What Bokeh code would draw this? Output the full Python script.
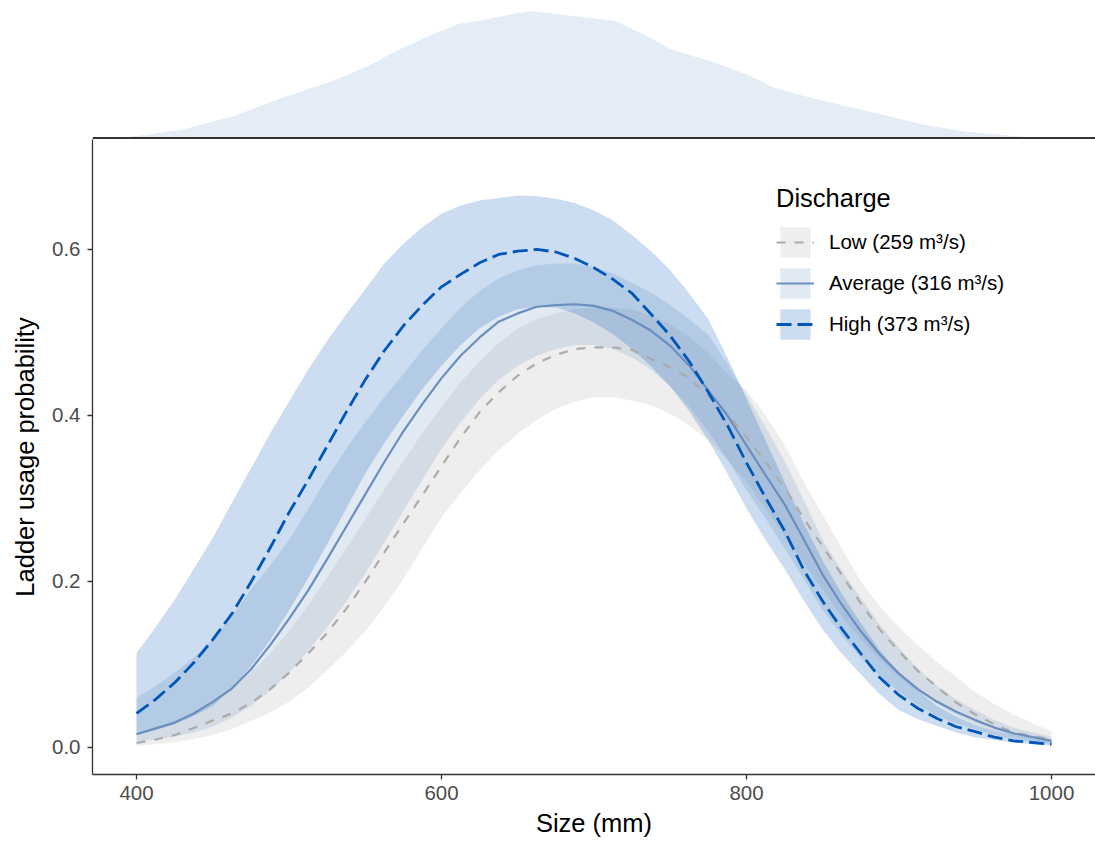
from bokeh.plotting import figure
from bokeh.layouts import column
from bokeh.models import Range1d, FixedTicker, PrintfTickFormatter, Legend, LegendItem, Span
from bokeh.embed import file_html
from bokeh.resources import INLINE

# ---- data ----
size_mm = [400, 412.5, 425, 437.5, 450, 462.5, 475, 487.5, 500, 512.5, 525, 537.5, 550,
           562.5, 575, 587.5, 600, 612.5, 625, 637.5, 650, 662.5, 675, 687.5, 700,
           712.5, 725, 737.5, 750, 762.5, 775, 787.5, 800, 812.5, 825, 837.5, 850,
           862.5, 875, 887.5, 900, 912.5, 925, 937.5, 950, 962.5, 975, 987.5, 1000]

low_fit = [.0054, .0096, .015, .0235, .0325, .041, .0536, .070, .090, .113,
           .138, .167, .1995, .235, .270, .304, .339, .373, .404, .428,
           .448, .463, .473, .480, .482, .482, .479, .468, .458, .445,
           .423, .402, .374, .344, .313, .276, .242, .208, .1735, .142,
           .1157, .092, .073, .054, .0398, .028, .018, .0139, .0096]
low_lo = [.002, .004, .006, .010, .015, .022, .032, .042, .055, .072,
          .093, .115, .140, .170, .203, .240, .277, .307, .334, .358,
          .378, .395, .408, .417, .422, .422, .418, .412, .402, .388,
          .370, .347, .320, .288, .255, .222, .190, .158, .130, .106,
          .085, .067, .052, .039, .028, .020, .014, .009, .006]
low_hi = [.015, .022, .030, .041, .055, .071, .090, .113, .140, .171,
          .205, .240, .275, .311, .345, .379, .410, .440, .465, .487,
          .505, .516, .523, .528, .530, .530, .528, .520, .510, .495,
          .475, .450, .430, .400, .365, .320, .280, .240, .200, .170,
          .145, .123, .103, .085, .067, .052, .040, .029, .020]

avg_fit = [.016, .023, .030, .041, .055, .071, .094, .123, .155, .189,
           .227, .266, .305, .344, .381, .414, .445, .472, .494, .513,
           .523, .531, .533, .534, .532, .526, .515, .502, .484, .460,
           .430, .400, .364, .328, .293, .251, .208, .172, .140, .112,
           .089, .070, .055, .043, .033, .024, .017, .0127, .008]
avg_lo = [.007, .010, .013, .018, .025, .036, .050, .068, .090, .116,
          .145, .176, .210, .247, .285, .323, .360, .392, .420, .443,
          .460, .472, .480, .485, .485, .480, .470, .455, .435, .410,
          .380, .347, .310, .276, .240, .203, .165, .135, .108, .086,
          .067, .051, .038, .029, .022, .015, .010, .007, .004]
avg_hi = [.060, .074, .090, .108, .130, .158, .190, .219, .250, .287,
          .325, .360, .392, .422, .450, .479, .505, .530, .550, .565,
          .575, .581, .583, .583, .579, .571, .560, .548, .533, .516,
          .497, .462, .425, .386, .345, .298, .250, .213, .180, .148,
          .120, .095, .074, .058, .045, .033, .024, .018, .013]

high_fit = [.041, .058, .078, .102, .130, .161, .199, .240, .283, .322,
            .363, .404, .443, .478, .508, .533, .555, .570, .584, .594,
            .598, .600, .597, .589, .578, .564, .547, .522, .496, .465,
            .428, .388, .343, .301, .261, .214, .176, .143, .113, .084,
            .063, .047, .035, .025, .019, .0125, .008, .006, .004]
high_lo = [.016, .021, .028, .038, .050, .071, .098, .129, .165, .204,
           .245, .288, .330, .367, .400, .432, .460, .485, .505, .519,
           .528, .531, .530, .523, .512, .498, .480, .459, .435, .405,
           .370, .330, .288, .250, .215, .177, .142, .113, .088, .064,
           .045, .034, .026, .018, .012, .009, .006, .004, .002]
high_hi = [.114, .145, .178, .215, .2525, .295, .336, .378, .417, .455,
           .490, .522, .552, .583, .607, .627, .643, .653, .659, .662,
           .665, .664, .661, .656, .647, .635, .617, .598, .575, .547,
           .516, .470, .420, .370, .320, .270, .225, .185, .150, .117,
           .090, .068, .050, .037, .027, .020, .015, .012, .010]

dens_x = [390, 409, 431, 464, 496, 529, 552, 573, 595, 611, 628, 650, 660, 683, 700,
          714, 732, 750, 764, 782, 805, 819, 837, 860, 888, 915, 943, 975, 989]
dens_y = [.002, .029, .069, .173, .317, .449, .567, .698, .817, .895, .927, .979, .994,
          .961, .940, .916, .817, .698, .646, .580, .475, .391, .331, .265, .187, .108,
          .050, .016, .002]

series_labels = ["Low (259 m³/s)", "Average (316 m³/s)", "High (373 m³/s)"]
x_ticks = [400, 600, 800, 1000]
y_ticks = [0.0, 0.2, 0.4, 0.6]

FONT = "Liberation Sans"
AXIS_COL = "#333333"

# ---- main panel ----
p = figure(width=1095, height=704, x_range=Range1d(371.15, 1028.85),
           y_range=Range1d(-0.03253, 0.7325), output_backend="svg",
           toolbar_location=None, min_border_left=92, min_border_right=0,
           min_border_top=0, min_border_bottom=69)
p.outline_line_color = None
p.grid.visible = False

cols = ["#ababab", "#6a8fbf", "#0057b8"]
styles = [dict(line_dash="9 9", line_width=2.2),
          dict(line_dash="solid", line_width=2.2),
          dict(line_dash="15 6", line_width=2.8)]
fits = [low_fit, avg_fit, high_fit]
los = [low_lo, avg_lo, high_lo]
his = [low_hi, avg_hi, high_hi]

ribbons = []
for c, lo, hi in zip(cols, los, his):
    ribbons.append(p.varea(x=size_mm, y1=lo, y2=hi, fill_color=c, fill_alpha=0.2))
lines = []
for c, f, st in zip(cols, fits, styles):
    lines.append(p.line(x=size_mm, y=f, line_color=c, line_join="round", **st))

for ax in (p.xaxis[0], p.yaxis[0]):
    ax.axis_line_color = AXIS_COL
    ax.axis_line_width = 1.3
    ax.major_tick_line_color = AXIS_COL
    ax.major_tick_line_width = 1.3
    ax.major_tick_out = 5
    ax.major_tick_in = 0
    ax.minor_tick_line_color = None
    ax.major_label_text_font = FONT
    ax.major_label_text_font_size = "20.5px"
    ax.major_label_text_color = "#4d4d4d"
    ax.axis_label_text_font = FONT
    ax.axis_label_text_font_size = "25.5px"
    ax.axis_label_text_font_style = "normal"
    ax.axis_label_text_color = "#000000"

p.xaxis.ticker = FixedTicker(ticks=x_ticks)
p.yaxis.ticker = FixedTicker(ticks=y_ticks)
p.yaxis.formatter = PrintfTickFormatter(format="%.1f")
p.xaxis.axis_label = "Size (mm)"
p.yaxis.axis_label = "Ladder usage probability"
p.xaxis.major_label_standoff = 6
p.yaxis.major_label_standoff = 7
p.xaxis.axis_label_standoff = 6
p.yaxis.axis_label_standoff = 10

items = [LegendItem(label=lab, renderers=[r, l]) for lab, r, l in zip(series_labels, ribbons, lines)]
legend = Legend(items=items, location=(684, 431), title="Discharge",
                title_text_font=FONT, title_text_font_size="25.5px",
                title_text_font_style="normal", title_text_color="#000000",
                title_standoff=10,
                label_text_font=FONT, label_text_font_size="20.5px",
                label_text_color="#000000", label_standoff=15,
                glyph_width=38, glyph_height=38, spacing=3,
                padding=0, margin=0, border_line_color=None,
                background_fill_alpha=0)
p.add_layout(legend)

# ---- top marginal density ----
m = figure(width=1095, height=139, x_range=p.x_range, y_range=Range1d(-0.0118, 1.0784),
           output_backend="svg", toolbar_location=None,
           x_axis_location=None, y_axis_location=None,
           min_border_left=92, min_border_right=0, min_border_top=0, min_border_bottom=0)
m.outline_line_color = None
m.grid.visible = False
m.varea(x=dens_x, y1=0, y2=dens_y, fill_color="#e4ecf6")
m.add_layout(Span(location=0, dimension="width", line_color=AXIS_COL, line_width=1.8))

layout = column(m, p)
open("out.html", "w").write(file_html(layout, INLINE))
